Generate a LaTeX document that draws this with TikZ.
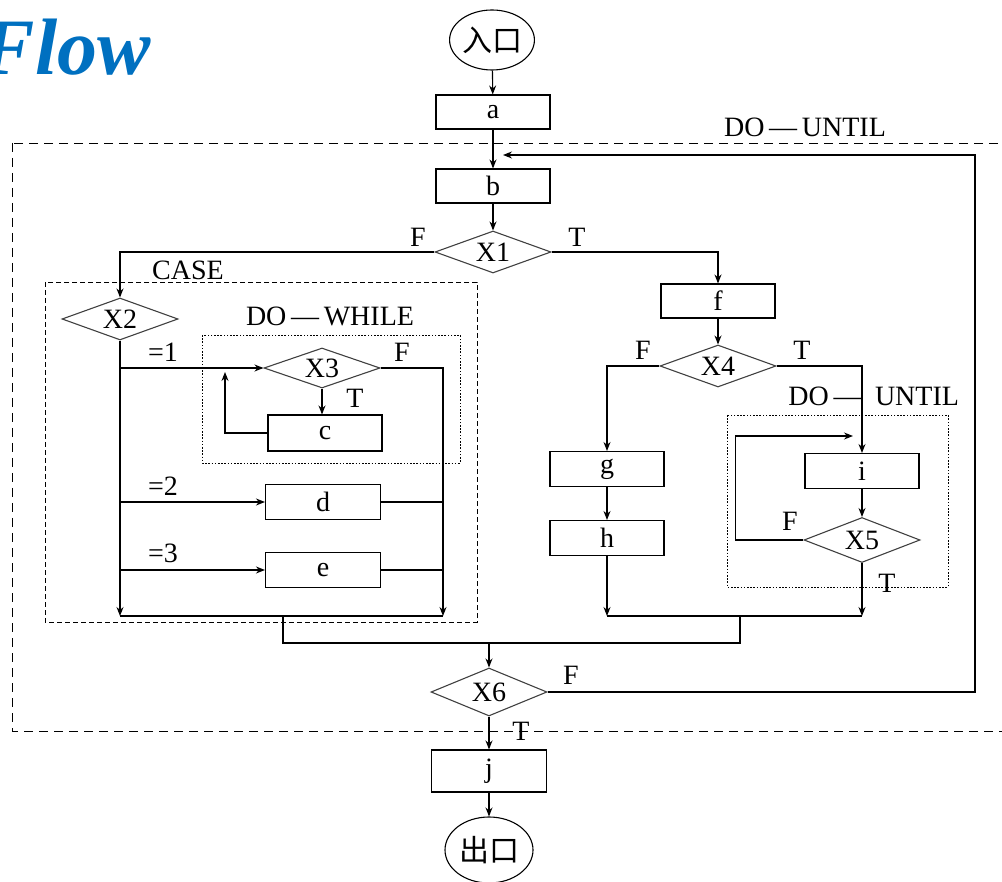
\documentclass[tikz,border=0pt]{standalone}
\usepackage{fontspec}
\usepackage[x11names, rgb]{xcolor}
\usepackage{tikz}
\usetikzlibrary{calc,arrows,arrows.meta,shapes,shapes.geometric,positioning}
\setmainfont{Liberation Serif}
\newfontfamily\cjk{Noto Sans CJK SC}
\definecolor{flowblue}{HTML}{0070C0}

\begin{document}
\begin{tikzpicture}[x=1pt,y=-1pt,>={Stealth[length=9pt,width=7pt,inset=3pt]},line width=1.1pt,
	font=\fontsize{28}{30}\selectfont,
	box/.style={draw,rectangle,minimum width=114pt,minimum height=34pt,inner sep=0pt},
	cond/.style={draw,diamond,aspect=2.8,minimum width=116pt,minimum height=42pt,inner sep=0pt,draw=black!75},
	term/.style={draw,ellipse,minimum width=84pt,minimum height=60pt,inner sep=0pt,font=\fontsize{30}{32}\cjk},
	outerloop/.style={dash pattern=on 9pt off 6pt,line width=0.9pt},
	casebox/.style={dash pattern=on 5pt off 3pt,line width=0.9pt},
	loopbox/.style={dash pattern=on 1.6pt off 1.6pt,line width=0.9pt}]
	\useasboundingbox (0,0) rectangle (1002,882);

	\node (title) at (-22,75) [anchor=base west,text=flowblue,font=\fontsize{80}{80}\selectfont\bfseries\itshape] {Flow};

	% frames of the structures
	\draw [outerloop] (12,143) rectangle (1012,731);
	\draw [casebox] (45,282) rectangle (477,622);
	\draw [loopbox] (202,335) rectangle (460,463);
	\draw [loopbox] (727,415) rectangle (948,587);

	\node (enter) at (492,40)  [term] {入口};
	\node (a)  at (493,112) [box] {a};
	\node (b)  at (493,186) [box] {b};
	\node (X1) at (493,252) [cond] {X1};
	\node (X2) at (120,319) [cond] {X2};
	\node (X3) at (322,368) [cond,minimum height=40pt] {X3};
	\node (c)  at (325,433) [box,minimum height=36pt] {c};
	\node (d)  at (323,502) [box,minimum width=115pt,minimum height=35pt] {d};
	\node (e)  at (323,570) [box,minimum width=115pt,minimum height=35pt] {e};
	\node (f)  at (718,301) [box] {f};
	\node (X4) at (718,366) [cond] {X4};
	\node (g)  at (607,469) [box,minimum height=35pt] {g};
	\node (h)  at (607,538) [box,minimum height=35pt] {h};
	\node (i)  at (862,471) [box,minimum height=35pt] {i};
	\node (X5) at (862,540) [cond,minimum height=45pt] {X5};
	\node (X6) at (489,692) [cond,minimum height=48pt] {X6};
	\node (j)  at (489,771) [box,minimum width=115pt,minimum height=42pt] {j};
	\node (exit) at (489,850) [term,minimum width=88pt,minimum height=66pt] {出口};

	% labels
	\node (lblOuter) at (805,127) {DO\,---\,UNTIL};
	\node (lblCase)  at (188,270) {CASE};
	\node (lblWhile) at (330,316) {DO\,---\,WHILE};
	\node (lblUntilA) at (825,396) {DO\,---};
	\node (lblUntilB) at (917,396) {UNTIL};
	\node (lblX1F) at (418,237) {F};
	\node (lblX1T) at (577,237) {T};
	\node (lblOne)   at (163,352) {=1};
	\node (lblTwo)   at (163,486) {=2};
	\node (lblThree) at (163,553) {=3};
	\node (lblX3F) at (402,352) {F};
	\node (lblX3T) at (355,398) {T};
	\node (lblX4F) at (643,350) {F};
	\node (lblX4T) at (802,350) {T};
	\node (lblX5F) at (790,521) {F};
	\node (lblX5T) at (887,583) {T};
	\node (lblX6F) at (571,675) {F};
	\node (lblX6T) at (521,731) {T};

	\coordinate (back) at (503,155);
	\coordinate (backR) at (975,155);
	\coordinate (caseL) at (120,616);
	\coordinate (caseR) at (443,616);
	\coordinate (caseM) at (283,616);
	\coordinate (cUp) at (225,372);
	\coordinate (rightL) at (607,616);
	\coordinate (rightR) at (862,616);
	\coordinate (rightM) at (740,616);
	\coordinate (merge) at (489,643);
	\coordinate (iBack) at (853,436);

	\draw [->] (enter) to (a);
	\draw [->] (a) to (b);
	\draw [->] (b) to (X1);
	\draw [->] (X1.west) -| (X2.north);
	\draw [->] (X1.east) -| (f.north);

	\draw [->] (X2.south) to (caseL);
	\draw [->] (X2.south |- X3.west) to (X3.west);
	\draw [->] (X3.east) -| (caseR);
	\draw [->] (X3.south) to (X3.south |- c.north);
	\draw [->] (c.west) -| (cUp);
	\draw [->] (X2.south |- d.west) to (d.west);
	\draw (d.east) to (caseR |- d.east);
	\draw [->] (X2.south |- e.west) to (e.west);
	\draw (e.east) to (caseR |- e.east);
	\draw (caseL) to (caseR);

	\draw [->] (f) to (X4);
	\draw [->] (X4.west) -| (g.north);
	\draw [->] (X4.east) -| (i.north);
	\draw [->] (g) to (h);
	\draw [->] (h.south) to (rightL);
	\draw [->] (i) to (X5);
	\draw [->] (X5.south) to (rightR);
	\draw [->] (X5.west) -- ++(-68,0) |- (iBack);
	\draw (rightL) to (rightR);

	\draw (caseM) |- (merge) -| (rightM);
	\draw [->] (merge) to (X6.north);
	\draw [->] (X6.east) -| (backR) to (back);
	\draw [->] (X6) to (j);
	\draw [->] (j) to (exit);

\end{tikzpicture}
\end{document}
